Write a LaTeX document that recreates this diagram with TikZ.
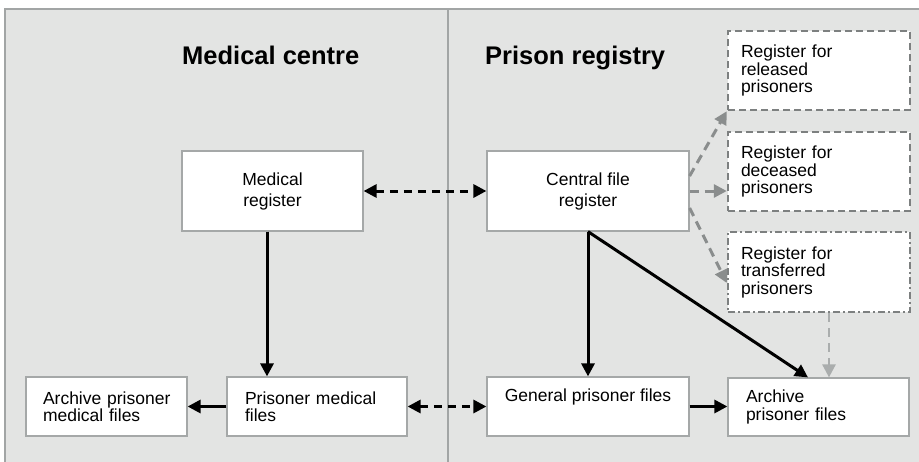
\documentclass[tikz,border=0pt]{standalone}
\usepackage{fontspec}
\setmainfont{Liberation Sans}
\usetikzlibrary{arrows.meta}
\definecolor{panelfill}{HTML}{E3E4E3}
\definecolor{panelline}{HTML}{A2A5A5}
\definecolor{boxline}{HTML}{A5A8A8}
\definecolor{dashline}{HTML}{7D8080}
\definecolor{grayarrow}{HTML}{8A8D8D}
\definecolor{lightarrow}{HTML}{AAADAD}
\tikzset{
  box/.style={draw=boxline, fill=white, line width=1.2pt, inner sep=0pt},
  ctext/.style={align=center, font=\fontsize{17.5}{21}\selectfont},
  ltext/.style={align=left, font=\fontsize{17.5}{17.5}\selectfont},
  dbox/.style={draw=dashline, fill=white, line width=2.4pt, inner sep=0pt, dash pattern=on 7pt off 4pt},
  ddbox/.style={draw=dashline, fill=white, line width=2.4pt, inner sep=0pt, dash pattern=on 7pt off 3pt on 2pt off 3pt},
  title/.style={anchor=base west, inner sep=0pt, font=\fontsize{25.5}{30}\selectfont\bfseries},
  arr/.style={line width=3pt, -{Triangle[length=13pt,width=13pt]}},
  darr/.style={line width=3pt, dash pattern=on 8pt off 6pt, {Triangle[length=13pt,width=13pt]}-{Triangle[length=13pt,width=13pt]}},
  garr/.style={draw=grayarrow, line width=3pt, dash pattern=on 9pt off 6pt, -{Triangle[length=13pt,width=13pt,fill=grayarrow]}},
  larr/.style={draw=lightarrow, line width=2.6pt, dash pattern=on 9pt off 6pt, -{Triangle[length=13pt,width=13pt,fill=lightarrow]}},
}
\begin{document}
\begin{tikzpicture}[x=1pt,y=-1pt]
\useasboundingbox (0,0) rectangle (919,461);
\fill[white] (0,0) rectangle (919,461);
\filldraw[fill=panelfill, draw=panelline, line width=1.3pt] (5,9) rectangle (930,475);
\draw[panelline, line width=1.3pt] (448,9) -- (448,475);

\node[title] (t1) at (182,64) {Medical centre};
\node[title] (t2) at (485,64) {Prison registry};

\node[box, ctext, minimum width=181pt, minimum height=80pt] (MR) at (272.5,191) {Medical\\register};
\node[box, ctext, minimum width=202pt, minimum height=80pt] (CFR) at (588,191) {Central file\\register};

\node[dbox, ltext, minimum width=182pt, minimum height=79pt, text width=156pt] (REL) at (819,70.5) {Register for\\released\\prisoners};
\node[dbox, ltext, minimum width=182pt, minimum height=79pt, text width=156pt] (DEC) at (819,171.5) {Register for\\deceased\\prisoners};
\node[ddbox, ltext, minimum width=182pt, minimum height=80pt, text width=156pt] (TRA) at (819,272) {Register for\\transferred\\prisoners};

\node[box, ltext, minimum width=181pt, minimum height=58pt, text width=145pt] (APF) at (818.5,407) {Archive\\prisoner files};
\node[box, align=center, font=\fontsize{17.5}{17}\selectfont, minimum width=202pt, minimum height=59pt] (GPF) at (588,406.5) {General prisoner files\\\strut};
\node[box, ltext, minimum width=180pt, minimum height=59pt, text width=144pt] (PMF) at (317,406.5) {Prisoner medical\\files};
\node[box, ltext, minimum width=161pt, minimum height=59pt, text width=127pt] (APMF) at (106.5,406.5) {\mbox{Archive prisoner}\\medical files};

% connectors
\draw[darr] (MR.east) -- (CFR.west);
\draw[arr] ([xshift=-5.5pt]MR.south) -- ([xshift=-5.5pt]MR.south |- PMF.north);
\draw[arr] (CFR.south) -- (GPF.north);
\draw[arr] (CFR.south) -- ([xshift=-10.5pt]APF.north);
\draw[arr] (PMF.west) -- (APMF.east);
\draw[darr] (PMF.east) -- (GPF.west);
\draw[arr] (GPF.east) -- (GPF.east -| APF.west);

\draw[garr] ([yshift=15pt]CFR.east) -- (REL.south west);
\draw[garr] (CFR.east) -- (CFR.east -| DEC.west);
\draw[garr] ([yshift=-17pt]CFR.east) -- ([yshift=-11pt]TRA.west);
\draw[larr] ([xshift=10pt]TRA.south) -- ([xshift=10pt]TRA.south |- APF.north);
\end{tikzpicture}
\end{document}
